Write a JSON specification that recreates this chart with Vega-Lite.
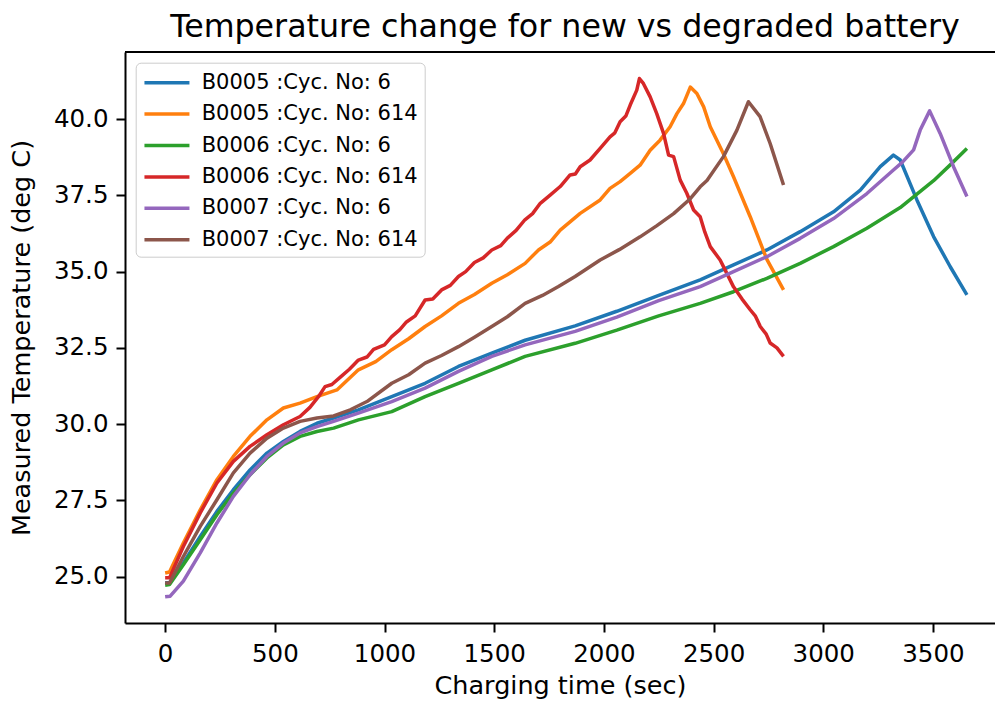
{
  "$schema": "https://vega.github.io/schema/vega-lite/v6.json",
  "autosize": {"type": "none"},
  "padding": {"left": 125, "top": 52, "right": 0, "bottom": 81},
  "width": 870,
  "height": 571,
  "background": "white",
  "title": {"text": "Temperature change for new vs degraded battery", "font": "DejaVu Sans", "fontSize": 31.7, "fontWeight": "normal", "color": "black", "anchor": "middle", "baseline": "alphabetic", "offset": -18, "dx": 5},
  "config": {
    "view": {"stroke": null},
    "axis": {"grid": false, "domainColor": "black", "domainWidth": 2, "tickColor": "black", "tickWidth": 2, "tickSize": 9, "labelFont": "DejaVu Sans", "labelFontSize": 24.5, "labelColor": "black", "titleFont": "DejaVu Sans", "titleFontSize": 25.5, "titleFontWeight": "normal", "titleColor": "black"},
    "legend": {"labelFont": "DejaVu Sans", "labelFontSize": 21, "labelColor": "black", "labelLimit": 0}
  },
  "data": {"values": [
    {"s":"B0005 :Cyc. No: 6","t":0,"v":24.80},{"s":"B0005 :Cyc. No: 6","t":20,"v":24.80},{"s":"B0005 :Cyc. No: 6","t":83,"v":25.45},{"s":"B0005 :Cyc. No: 6","t":160,"v":26.32},{"s":"B0005 :Cyc. No: 6","t":236,"v":27.14},{"s":"B0005 :Cyc. No: 6","t":311,"v":27.85},{"s":"B0005 :Cyc. No: 6","t":387,"v":28.50},{"s":"B0005 :Cyc. No: 6","t":464,"v":29.05},{"s":"B0005 :Cyc. No: 6","t":539,"v":29.43},{"s":"B0005 :Cyc. No: 6","t":615,"v":29.76},{"s":"B0005 :Cyc. No: 6","t":692,"v":30.03},{"s":"B0005 :Cyc. No: 6","t":768,"v":30.20},{"s":"B0005 :Cyc. No: 6","t":881,"v":30.47},{"s":"B0005 :Cyc. No: 6","t":1033,"v":30.90},{"s":"B0005 :Cyc. No: 6","t":1185,"v":31.34},{"s":"B0005 :Cyc. No: 6","t":1337,"v":31.89},{"s":"B0005 :Cyc. No: 6","t":1489,"v":32.33},{"s":"B0005 :Cyc. No: 6","t":1641,"v":32.75},{"s":"B0005 :Cyc. No: 6","t":1869,"v":33.22},{"s":"B0005 :Cyc. No: 6","t":2059,"v":33.70},{"s":"B0005 :Cyc. No: 6","t":2250,"v":34.22},{"s":"B0005 :Cyc. No: 6","t":2439,"v":34.73},{"s":"B0005 :Cyc. No: 6","t":2591,"v":35.22},{"s":"B0005 :Cyc. No: 6","t":2743,"v":35.71},{"s":"B0005 :Cyc. No: 6","t":2895,"v":36.31},{"s":"B0005 :Cyc. No: 6","t":3047,"v":36.96},{"s":"B0005 :Cyc. No: 6","t":3169,"v":37.67},{"s":"B0005 :Cyc. No: 6","t":3260,"v":38.44},{"s":"B0005 :Cyc. No: 6","t":3320,"v":38.82},{"s":"B0005 :Cyc. No: 6","t":3351,"v":38.66},{"s":"B0005 :Cyc. No: 6","t":3427,"v":37.35},{"s":"B0005 :Cyc. No: 6","t":3503,"v":36.15},{"s":"B0005 :Cyc. No: 6","t":3579,"v":35.16},{"s":"B0005 :Cyc. No: 6","t":3655,"v":34.24},
    {"s":"B0005 :Cyc. No: 614","t":0,"v":25.12},{"s":"B0005 :Cyc. No: 614","t":20,"v":25.15},{"s":"B0005 :Cyc. No: 614","t":83,"v":26.10},{"s":"B0005 :Cyc. No: 614","t":160,"v":27.19},{"s":"B0005 :Cyc. No: 614","t":236,"v":28.18},{"s":"B0005 :Cyc. No: 614","t":311,"v":28.94},{"s":"B0005 :Cyc. No: 614","t":387,"v":29.60},{"s":"B0005 :Cyc. No: 614","t":464,"v":30.14},{"s":"B0005 :Cyc. No: 614","t":539,"v":30.53},{"s":"B0005 :Cyc. No: 614","t":615,"v":30.69},{"s":"B0005 :Cyc. No: 614","t":692,"v":30.90},{"s":"B0005 :Cyc. No: 614","t":783,"v":31.12},{"s":"B0005 :Cyc. No: 614","t":881,"v":31.78},{"s":"B0005 :Cyc. No: 614","t":960,"v":32.05},{"s":"B0005 :Cyc. No: 614","t":1033,"v":32.44},{"s":"B0005 :Cyc. No: 614","t":1110,"v":32.80},{"s":"B0005 :Cyc. No: 614","t":1185,"v":33.20},{"s":"B0005 :Cyc. No: 614","t":1260,"v":33.55},{"s":"B0005 :Cyc. No: 614","t":1337,"v":33.96},{"s":"B0005 :Cyc. No: 614","t":1410,"v":34.25},{"s":"B0005 :Cyc. No: 614","t":1489,"v":34.62},{"s":"B0005 :Cyc. No: 614","t":1560,"v":34.90},{"s":"B0005 :Cyc. No: 614","t":1641,"v":35.27},{"s":"B0005 :Cyc. No: 614","t":1702,"v":35.71},{"s":"B0005 :Cyc. No: 614","t":1755,"v":35.97},{"s":"B0005 :Cyc. No: 614","t":1801,"v":36.36},{"s":"B0005 :Cyc. No: 614","t":1892,"v":36.91},{"s":"B0005 :Cyc. No: 614","t":1983,"v":37.35},{"s":"B0005 :Cyc. No: 614","t":2028,"v":37.73},{"s":"B0005 :Cyc. No: 614","t":2074,"v":37.95},{"s":"B0005 :Cyc. No: 614","t":2120,"v":38.22},{"s":"B0005 :Cyc. No: 614","t":2165,"v":38.49},{"s":"B0005 :Cyc. No: 614","t":2211,"v":38.98},{"s":"B0005 :Cyc. No: 614","t":2256,"v":39.31},{"s":"B0005 :Cyc. No: 614","t":2302,"v":39.75},{"s":"B0005 :Cyc. No: 614","t":2333,"v":40.18},{"s":"B0005 :Cyc. No: 614","t":2363,"v":40.51},{"s":"B0005 :Cyc. No: 614","t":2394,"v":41.05},{"s":"B0005 :Cyc. No: 614","t":2424,"v":40.84},{"s":"B0005 :Cyc. No: 614","t":2455,"v":40.40},{"s":"B0005 :Cyc. No: 614","t":2485,"v":39.75},{"s":"B0005 :Cyc. No: 614","t":2515,"v":39.31},{"s":"B0005 :Cyc. No: 614","t":2546,"v":38.85},{"s":"B0005 :Cyc. No: 614","t":2591,"v":38.11},{"s":"B0005 :Cyc. No: 614","t":2667,"v":36.80},{"s":"B0005 :Cyc. No: 614","t":2743,"v":35.40},{"s":"B0005 :Cyc. No: 614","t":2819,"v":34.40},
    {"s":"B0006 :Cyc. No: 6","t":0,"v":24.72},{"s":"B0006 :Cyc. No: 6","t":20,"v":24.74},{"s":"B0006 :Cyc. No: 6","t":83,"v":25.39},{"s":"B0006 :Cyc. No: 6","t":160,"v":26.21},{"s":"B0006 :Cyc. No: 6","t":236,"v":27.03},{"s":"B0006 :Cyc. No: 6","t":311,"v":27.74},{"s":"B0006 :Cyc. No: 6","t":387,"v":28.34},{"s":"B0006 :Cyc. No: 6","t":464,"v":28.89},{"s":"B0006 :Cyc. No: 6","t":539,"v":29.32},{"s":"B0006 :Cyc. No: 6","t":615,"v":29.60},{"s":"B0006 :Cyc. No: 6","t":692,"v":29.76},{"s":"B0006 :Cyc. No: 6","t":768,"v":29.87},{"s":"B0006 :Cyc. No: 6","t":881,"v":30.14},{"s":"B0006 :Cyc. No: 6","t":1033,"v":30.41},{"s":"B0006 :Cyc. No: 6","t":1185,"v":30.90},{"s":"B0006 :Cyc. No: 6","t":1337,"v":31.34},{"s":"B0006 :Cyc. No: 6","t":1489,"v":31.78},{"s":"B0006 :Cyc. No: 6","t":1641,"v":32.22},{"s":"B0006 :Cyc. No: 6","t":1869,"v":32.65},{"s":"B0006 :Cyc. No: 6","t":2059,"v":33.08},{"s":"B0006 :Cyc. No: 6","t":2250,"v":33.55},{"s":"B0006 :Cyc. No: 6","t":2439,"v":33.96},{"s":"B0006 :Cyc. No: 6","t":2591,"v":34.34},{"s":"B0006 :Cyc. No: 6","t":2743,"v":34.78},{"s":"B0006 :Cyc. No: 6","t":2895,"v":35.27},{"s":"B0006 :Cyc. No: 6","t":3047,"v":35.82},{"s":"B0006 :Cyc. No: 6","t":3199,"v":36.42},{"s":"B0006 :Cyc. No: 6","t":3351,"v":37.10},{"s":"B0006 :Cyc. No: 6","t":3503,"v":37.98},{"s":"B0006 :Cyc. No: 6","t":3579,"v":38.50},{"s":"B0006 :Cyc. No: 6","t":3655,"v":39.04},
    {"s":"B0006 :Cyc. No: 614","t":0,"v":24.96},{"s":"B0006 :Cyc. No: 614","t":20,"v":24.96},{"s":"B0006 :Cyc. No: 614","t":83,"v":25.99},{"s":"B0006 :Cyc. No: 614","t":160,"v":27.09},{"s":"B0006 :Cyc. No: 614","t":236,"v":28.07},{"s":"B0006 :Cyc. No: 614","t":311,"v":28.78},{"s":"B0006 :Cyc. No: 614","t":387,"v":29.27},{"s":"B0006 :Cyc. No: 614","t":464,"v":29.65},{"s":"B0006 :Cyc. No: 614","t":539,"v":29.98},{"s":"B0006 :Cyc. No: 614","t":615,"v":30.25},{"s":"B0006 :Cyc. No: 614","t":660,"v":30.55},{"s":"B0006 :Cyc. No: 614","t":699,"v":30.90},{"s":"B0006 :Cyc. No: 614","t":729,"v":31.23},{"s":"B0006 :Cyc. No: 614","t":760,"v":31.30},{"s":"B0006 :Cyc. No: 614","t":800,"v":31.55},{"s":"B0006 :Cyc. No: 614","t":840,"v":31.80},{"s":"B0006 :Cyc. No: 614","t":881,"v":32.10},{"s":"B0006 :Cyc. No: 614","t":920,"v":32.20},{"s":"B0006 :Cyc. No: 614","t":950,"v":32.45},{"s":"B0006 :Cyc. No: 614","t":1000,"v":32.60},{"s":"B0006 :Cyc. No: 614","t":1033,"v":32.87},{"s":"B0006 :Cyc. No: 614","t":1070,"v":33.10},{"s":"B0006 :Cyc. No: 614","t":1100,"v":33.35},{"s":"B0006 :Cyc. No: 614","t":1140,"v":33.55},{"s":"B0006 :Cyc. No: 614","t":1185,"v":34.07},{"s":"B0006 :Cyc. No: 614","t":1220,"v":34.10},{"s":"B0006 :Cyc. No: 614","t":1260,"v":34.40},{"s":"B0006 :Cyc. No: 614","t":1300,"v":34.55},{"s":"B0006 :Cyc. No: 614","t":1337,"v":34.84},{"s":"B0006 :Cyc. No: 614","t":1370,"v":35.00},{"s":"B0006 :Cyc. No: 614","t":1410,"v":35.30},{"s":"B0006 :Cyc. No: 614","t":1450,"v":35.45},{"s":"B0006 :Cyc. No: 614","t":1489,"v":35.71},{"s":"B0006 :Cyc. No: 614","t":1530,"v":35.85},{"s":"B0006 :Cyc. No: 614","t":1560,"v":36.10},{"s":"B0006 :Cyc. No: 614","t":1600,"v":36.35},{"s":"B0006 :Cyc. No: 614","t":1640,"v":36.70},{"s":"B0006 :Cyc. No: 614","t":1675,"v":36.90},{"s":"B0006 :Cyc. No: 614","t":1710,"v":37.24},{"s":"B0006 :Cyc. No: 614","t":1755,"v":37.51},{"s":"B0006 :Cyc. No: 614","t":1801,"v":37.79},{"s":"B0006 :Cyc. No: 614","t":1846,"v":38.17},{"s":"B0006 :Cyc. No: 614","t":1870,"v":38.20},{"s":"B0006 :Cyc. No: 614","t":1892,"v":38.44},{"s":"B0006 :Cyc. No: 614","t":1937,"v":38.66},{"s":"B0006 :Cyc. No: 614","t":1983,"v":39.04},{"s":"B0006 :Cyc. No: 614","t":2028,"v":39.42},{"s":"B0006 :Cyc. No: 614","t":2050,"v":39.55},{"s":"B0006 :Cyc. No: 614","t":2074,"v":39.91},{"s":"B0006 :Cyc. No: 614","t":2100,"v":40.10},{"s":"B0006 :Cyc. No: 614","t":2120,"v":40.46},{"s":"B0006 :Cyc. No: 614","t":2150,"v":40.95},{"s":"B0006 :Cyc. No: 614","t":2162,"v":41.33},{"s":"B0006 :Cyc. No: 614","t":2180,"v":41.17},{"s":"B0006 :Cyc. No: 614","t":2211,"v":40.73},{"s":"B0006 :Cyc. No: 614","t":2241,"v":40.18},{"s":"B0006 :Cyc. No: 614","t":2272,"v":39.53},{"s":"B0006 :Cyc. No: 614","t":2295,"v":38.82},{"s":"B0006 :Cyc. No: 614","t":2318,"v":38.77},{"s":"B0006 :Cyc. No: 614","t":2348,"v":38.00},{"s":"B0006 :Cyc. No: 614","t":2378,"v":37.57},{"s":"B0006 :Cyc. No: 614","t":2409,"v":37.02},{"s":"B0006 :Cyc. No: 614","t":2439,"v":36.80},{"s":"B0006 :Cyc. No: 614","t":2460,"v":36.30},{"s":"B0006 :Cyc. No: 614","t":2485,"v":35.82},{"s":"B0006 :Cyc. No: 614","t":2530,"v":35.38},{"s":"B0006 :Cyc. No: 614","t":2560,"v":34.95},{"s":"B0006 :Cyc. No: 614","t":2591,"v":34.50},{"s":"B0006 :Cyc. No: 614","t":2630,"v":34.10},{"s":"B0006 :Cyc. No: 614","t":2667,"v":33.75},{"s":"B0006 :Cyc. No: 614","t":2690,"v":33.55},{"s":"B0006 :Cyc. No: 614","t":2713,"v":33.20},{"s":"B0006 :Cyc. No: 614","t":2740,"v":32.95},{"s":"B0006 :Cyc. No: 614","t":2758,"v":32.66},{"s":"B0006 :Cyc. No: 614","t":2789,"v":32.50},{"s":"B0006 :Cyc. No: 614","t":2819,"v":32.22},
    {"s":"B0007 :Cyc. No: 6","t":0,"v":24.34},{"s":"B0007 :Cyc. No: 6","t":23,"v":24.36},{"s":"B0007 :Cyc. No: 6","t":83,"v":24.85},{"s":"B0007 :Cyc. No: 6","t":160,"v":25.78},{"s":"B0007 :Cyc. No: 6","t":236,"v":26.76},{"s":"B0007 :Cyc. No: 6","t":311,"v":27.63},{"s":"B0007 :Cyc. No: 6","t":387,"v":28.34},{"s":"B0007 :Cyc. No: 6","t":464,"v":28.94},{"s":"B0007 :Cyc. No: 6","t":539,"v":29.38},{"s":"B0007 :Cyc. No: 6","t":615,"v":29.71},{"s":"B0007 :Cyc. No: 6","t":692,"v":29.92},{"s":"B0007 :Cyc. No: 6","t":768,"v":30.09},{"s":"B0007 :Cyc. No: 6","t":881,"v":30.36},{"s":"B0007 :Cyc. No: 6","t":1033,"v":30.74},{"s":"B0007 :Cyc. No: 6","t":1185,"v":31.18},{"s":"B0007 :Cyc. No: 6","t":1337,"v":31.73},{"s":"B0007 :Cyc. No: 6","t":1489,"v":32.22},{"s":"B0007 :Cyc. No: 6","t":1641,"v":32.60},{"s":"B0007 :Cyc. No: 6","t":1869,"v":33.04},{"s":"B0007 :Cyc. No: 6","t":2059,"v":33.51},{"s":"B0007 :Cyc. No: 6","t":2250,"v":34.05},{"s":"B0007 :Cyc. No: 6","t":2439,"v":34.51},{"s":"B0007 :Cyc. No: 6","t":2591,"v":35.00},{"s":"B0007 :Cyc. No: 6","t":2743,"v":35.49},{"s":"B0007 :Cyc. No: 6","t":2895,"v":36.09},{"s":"B0007 :Cyc. No: 6","t":3047,"v":36.74},{"s":"B0007 :Cyc. No: 6","t":3199,"v":37.56},{"s":"B0007 :Cyc. No: 6","t":3320,"v":38.33},{"s":"B0007 :Cyc. No: 6","t":3360,"v":38.58},{"s":"B0007 :Cyc. No: 6","t":3412,"v":38.99},{"s":"B0007 :Cyc. No: 6","t":3442,"v":39.64},{"s":"B0007 :Cyc. No: 6","t":3485,"v":40.27},{"s":"B0007 :Cyc. No: 6","t":3533,"v":39.53},{"s":"B0007 :Cyc. No: 6","t":3594,"v":38.44},{"s":"B0007 :Cyc. No: 6","t":3655,"v":37.46},
    {"s":"B0007 :Cyc. No: 614","t":0,"v":24.79},{"s":"B0007 :Cyc. No: 614","t":20,"v":24.79},{"s":"B0007 :Cyc. No: 614","t":83,"v":25.66},{"s":"B0007 :Cyc. No: 614","t":160,"v":26.65},{"s":"B0007 :Cyc. No: 614","t":236,"v":27.52},{"s":"B0007 :Cyc. No: 614","t":311,"v":28.40},{"s":"B0007 :Cyc. No: 614","t":387,"v":29.05},{"s":"B0007 :Cyc. No: 614","t":464,"v":29.54},{"s":"B0007 :Cyc. No: 614","t":539,"v":29.87},{"s":"B0007 :Cyc. No: 614","t":615,"v":30.09},{"s":"B0007 :Cyc. No: 614","t":692,"v":30.20},{"s":"B0007 :Cyc. No: 614","t":768,"v":30.27},{"s":"B0007 :Cyc. No: 614","t":844,"v":30.47},{"s":"B0007 :Cyc. No: 614","t":920,"v":30.74},{"s":"B0007 :Cyc. No: 614","t":1033,"v":31.34},{"s":"B0007 :Cyc. No: 614","t":1110,"v":31.62},{"s":"B0007 :Cyc. No: 614","t":1185,"v":32.00},{"s":"B0007 :Cyc. No: 614","t":1260,"v":32.25},{"s":"B0007 :Cyc. No: 614","t":1337,"v":32.54},{"s":"B0007 :Cyc. No: 614","t":1410,"v":32.85},{"s":"B0007 :Cyc. No: 614","t":1489,"v":33.20},{"s":"B0007 :Cyc. No: 614","t":1560,"v":33.52},{"s":"B0007 :Cyc. No: 614","t":1641,"v":33.96},{"s":"B0007 :Cyc. No: 614","t":1720,"v":34.22},{"s":"B0007 :Cyc. No: 614","t":1793,"v":34.51},{"s":"B0007 :Cyc. No: 614","t":1869,"v":34.84},{"s":"B0007 :Cyc. No: 614","t":1983,"v":35.38},{"s":"B0007 :Cyc. No: 614","t":2070,"v":35.72},{"s":"B0007 :Cyc. No: 614","t":2165,"v":36.14},{"s":"B0007 :Cyc. No: 614","t":2240,"v":36.50},{"s":"B0007 :Cyc. No: 614","t":2318,"v":36.90},{"s":"B0007 :Cyc. No: 614","t":2394,"v":37.39},{"s":"B0007 :Cyc. No: 614","t":2439,"v":37.78},{"s":"B0007 :Cyc. No: 614","t":2470,"v":37.99},{"s":"B0007 :Cyc. No: 614","t":2545,"v":38.77},{"s":"B0007 :Cyc. No: 614","t":2606,"v":39.63},{"s":"B0007 :Cyc. No: 614","t":2659,"v":40.57},{"s":"B0007 :Cyc. No: 614","t":2712,"v":40.08},{"s":"B0007 :Cyc. No: 614","t":2758,"v":39.20},{"s":"B0007 :Cyc. No: 614","t":2819,"v":37.84}
  ]},
  "layer": [
    {
      "mark": {"type": "line", "strokeWidth": 3.5, "strokeJoin": "round", "strokeCap": "butt"},
      "encoding": {
        "x": {"field": "t", "type": "quantitative", "scale": {"domain": [-183, 3783], "nice": false, "zero": false},
              "axis": {"orient": "bottom", "title": "Charging time (sec)", "values": [0,500,1000,1500,2000,2500,3000,3500], "format": "d", "labelPadding": 10, "titlePadding": 8}},
        "y": {"field": "v", "type": "quantitative", "scale": {"domain": [23.48, 42.2], "nice": false, "zero": false},
              "axis": {"title": "Measured Temperature (deg C)", "values": [25,27.5,30,32.5,35,37.5,40], "format": ".1f", "labelPadding": 8, "titlePadding": 19}},
        "color": {"field": "s", "type": "nominal",
                  "scale": {"domain": ["B0005 :Cyc. No: 6","B0005 :Cyc. No: 614","B0006 :Cyc. No: 6","B0006 :Cyc. No: 614","B0007 :Cyc. No: 6","B0007 :Cyc. No: 614"],
                            "range": ["#1f77b4","#ff7f0e","#2ca02c","#d62728","#9467bd","#8c564b"]},
                  "legend": {"title": null, "orient": "none", "legendX": 10.7, "legendY": 10.7, "symbolType": "M-1,0H3", "symbolSize": 506, "symbolStrokeWidth": 3.5, "labelOffset": 33, "rowPadding": 8.4, "padding": 7, "strokeColor": "#cccccc", "fillColor": "white", "cornerRadius": 5}}
      }
    },
    {
      "mark": {"type": "rule", "color": "black", "strokeWidth": 2},
      "encoding": {"y": {"datum": 42.2}}
    }
  ]
}
